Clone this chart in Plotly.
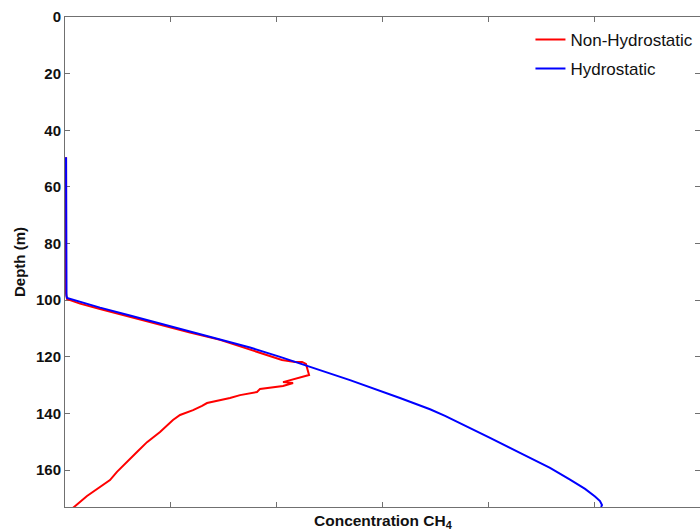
import plotly.graph_objects as go

# Hydrostatic profile (concentration in arbitrary units, depth in m)
hydro_conc = [0.01, 0.01, 0.014, 0.019, 0.142, 0.331, 0.614, 0.898, 1.181, 1.465, 1.748, 2.032,
              2.315, 2.693, 3.165, 3.307, 3.449, 3.591, 3.732, 4.016, 4.299, 4.583, 4.772,
              4.914, 5.008, 5.055, 5.074, 5.065]
hydro_depth = [49.5, 97.3, 98.4, 99.2, 100.6, 102.6, 105.4, 108.2, 110.9, 113.7, 116.7, 120.0,
               123.4, 128.2, 134.5, 136.4, 138.5, 140.8, 143.3, 148.6, 153.9, 159.2, 163.3,
               166.6, 169.3, 170.9, 172.3, 173.0]

# Non-hydrostatic profile
nonhydro_conc = [0.01, 0.01, 0.019, 0.142, 0.331, 0.614, 0.898, 1.181, 1.465, 1.748, 1.937, 2.05,
                 2.173, 2.24, 2.277, 2.306, 2.06, 2.155, 2.06, 1.843, 1.814, 1.654, 1.559, 1.342,
                 1.295, 1.21, 1.087, 1.02, 0.898, 0.775, 0.680, 0.586, 0.491, 0.425, 0.331,
                 0.208, 0.094, 0.076]
nonhydro_depth = [49.5, 97.5, 99.6, 101.2, 103.1, 105.9, 108.7, 111.4, 114.0, 117.4, 119.7, 121.1,
                  121.8, 121.8, 122.5, 126.4, 128.9, 129.2, 130.3, 131.3, 132.4, 133.5, 134.5, 136.3,
                  137.3, 138.8, 140.5, 142.3, 146.5, 150.1, 153.6, 157.1, 160.6, 163.5, 165.9,
                  169.1, 172.7, 173.3]

depth_ticks = [0, 20, 40, 60, 80, 100, 120, 140, 160]
conc_ticks = [0, 1, 2, 3, 4, 5, 6]

FONT = "Liberation Sans, Arial, sans-serif"
AXIS_COLOR = "#707070"

fig = go.Figure()
fig.add_trace(go.Scatter(x=nonhydro_conc, y=nonhydro_depth, mode="lines",
                         name="Non-Hydrostatic", legendgroup="a",
                         line=dict(color="#ff0000", width=2)))
fig.add_trace(go.Scatter(x=hydro_conc, y=hydro_depth, mode="lines",
                         name="Hydrostatic", legendgroup="b",
                         line=dict(color="#0000ff", width=2)))

fig.update_layout(
    width=700, height=530,
    margin=dict(l=65, r=0, t=17, b=23),
    plot_bgcolor="white", paper_bgcolor="white",
    font=dict(family=FONT, color="#111111"),
    showlegend=True,
    legend=dict(x=0.733, y=0.99, xanchor="left", yanchor="top",
                bgcolor="rgba(0,0,0,0)", borderwidth=0,
                font=dict(size=17, family=FONT, color="#111111"),
                tracegroupgap=4),
    xaxis=dict(range=[0, 6], tickvals=conc_ticks, showticklabels=False,
               ticks="inside", ticklen=5, tickcolor=AXIS_COLOR,
               showline=True, linecolor=AXIS_COLOR, linewidth=1, mirror="ticks",
               showgrid=False, zeroline=False, layer="below traces"),
    yaxis=dict(range=[173, 0], tickvals=depth_ticks,
               ticks="inside", ticklen=5, tickcolor=AXIS_COLOR,
               showline=True, linecolor=AXIS_COLOR, linewidth=1, mirror="ticks",
               showgrid=False, zeroline=False, layer="below traces",
               tickfont=dict(size=15, family=FONT, color="#111111", weight="bold"),
               title=dict(text="Depth (m)", standoff=6,
                          font=dict(size=15, family=FONT, color="#111111", weight="bold"))),
    annotations=[dict(text="Concentration CH<sub>4</sub>", x=0.5, y=0, xref="paper", yref="paper",
                      xanchor="center", yanchor="top", yshift=-3, showarrow=False,
                      font=dict(size=15.5, family=FONT, color="#111111", weight="bold"))],
)

fig.write_html("out.html")
